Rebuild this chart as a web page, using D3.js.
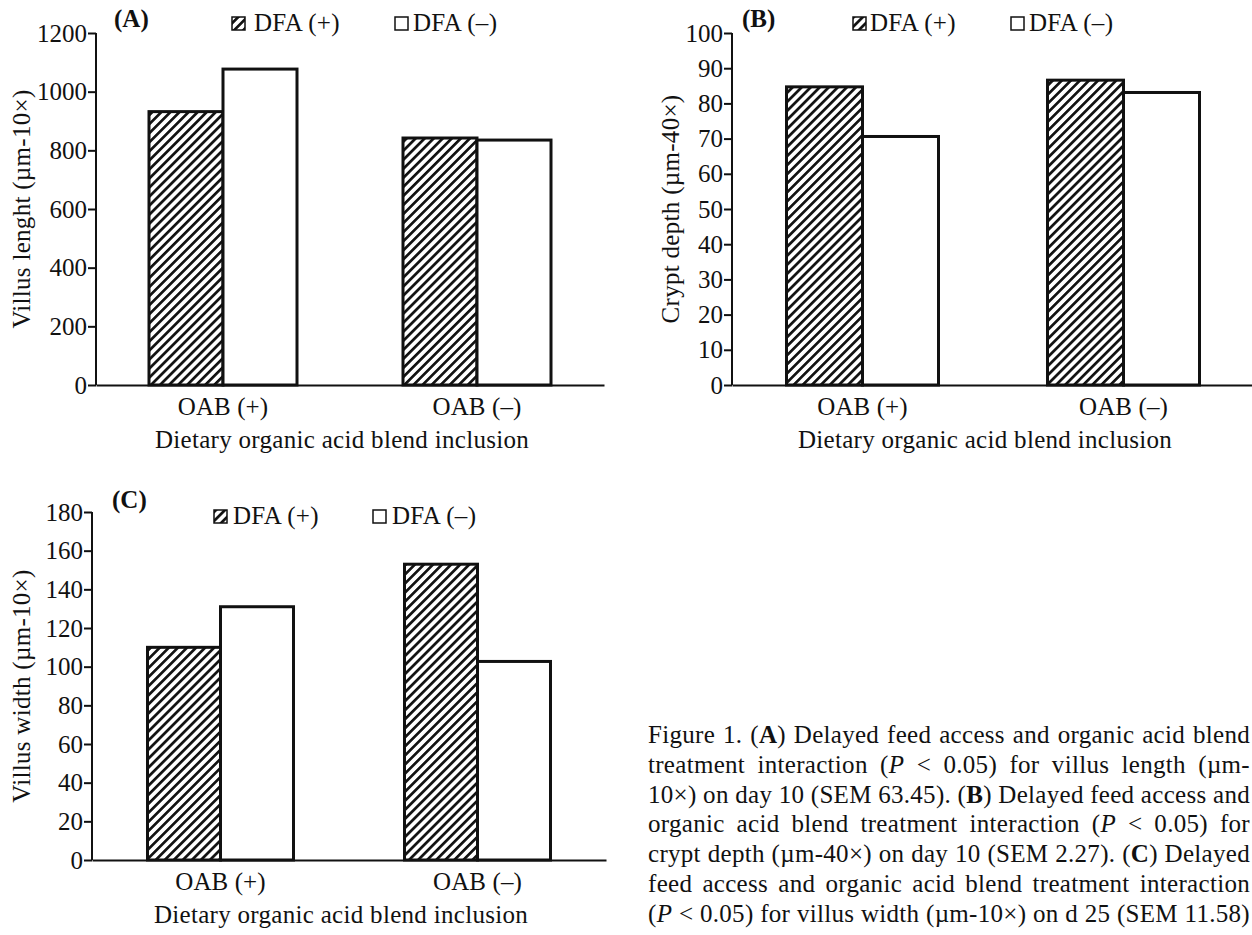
<!DOCTYPE html>
<html><head><meta charset="utf-8">
<script src="https://cdn.jsdelivr.net/npm/d3@7"></script>
<style>
body{margin:0;background:#fff}
svg{display:block}
text{font-family:"Liberation Serif","Times New Roman",serif;fill:#111}
</style>
</head><body><svg id="c" width="1252" height="935"></svg>
<script>
// ---- data ----
const categories = ["OAB (+)", "OAB (–)"];
const series = ["DFA (+)", "DFA (–)"];
const villusLengthDFAplus = [932, 842];
const villusLengthDFAminus = [1077, 835];
const cryptDepthDFAplus = [84.7, 86.6];
const cryptDepthDFAminus = [70.6, 83.1];
const villusWidthDFAplus = [110, 153];
const villusWidthDFAminus = [131, 102.7];
const ticksA = [0, 200, 400, 600, 800, 1000, 1200];
const ticksB = [0, 10, 20, 30, 40, 50, 60, 70, 80, 90, 100];
const ticksC = [0, 20, 40, 60, 80, 100, 120, 140, 160, 180];
const panelLabels = ["(A)", "(B)", "(C)"];
const yTitles = ["Villus lenght (µm-10×)", "Crypt depth (µm-40×)", "Villus width (µm-10×)"];
const xTitle = "Dietary organic acid blend inclusion";
const captionLines = [
  "Figure 1. (**A**) Delayed feed access and organic acid blend",
  "treatment interaction (*P* < 0.05) for villus length (µm-",
  "10×) on day 10 (SEM 63.45). (**B**) Delayed feed access and",
  "organic acid blend treatment interaction (*P* < 0.05) for",
  "crypt depth (µm-40×) on day 10 (SEM 2.27). (**C**) Delayed",
  "feed access and organic acid blend treatment interaction",
  "(*P* < 0.05) for villus width (µm-10×) on d 25 (SEM 11.58)"
];

// ---- layout ----
const panels = [
  {x0:96, x1:604, yTop:33, yBot:385, ticks:ticksA, plus:villusLengthDFAplus, minus:villusLengthDFAminus,
   bw:74, label:panelLabels[0], labelX:114, labelY:27, legendY:31, leg:[[232,254],[395,413]],
   yTitle:yTitles[0], yTitleX:30},
  {x0:732, x1:1254, yTop:33, yBot:385, ticks:ticksB, plus:cryptDepthDFAplus, minus:cryptDepthDFAminus,
   bw:76, label:panelLabels[1], labelX:742, labelY:27, legendY:31, leg:[[853,870],[1011,1029]],
   yTitle:yTitles[1], yTitleX:679},
  {x0:92, x1:606, yTop:512, yBot:860, ticks:ticksC, plus:villusWidthDFAplus, minus:villusWidthDFAminus,
   bw:73, label:panelLabels[2], labelX:112, labelY:508, legendY:524, leg:[[214,233],[373,392]],
   yTitle:yTitles[2], yTitleX:30}
];

const svg = d3.select("#c");
const defs = svg.append("defs");
const pat = defs.append("pattern").attr("id","hatch").attr("patternUnits","userSpaceOnUse")
  .attr("width",6.4).attr("height",6.4).attr("patternTransform","rotate(45)");
pat.append("rect").attr("width",6.4).attr("height",6.4).attr("fill","#fff");
pat.append("rect").attr("x",0).attr("width",2.7).attr("height",6.4).attr("fill","#111");

const FS = 25, LS = 0.3;

panels.forEach(p => {
  const g = svg.append("g");
  const maxV = p.ticks[p.ticks.length-1];
  const y = d3.scaleLinear().domain([0, maxV]).range([p.yBot, p.yTop]);
  const x = d3.scaleBand().domain(categories).range([p.x0, p.x1]);
  const xs = d3.scaleBand().domain(series).range([-p.bw, p.bw]);

  const rows = categories.map((c,i)=>[{c, s:series[0], v:p.plus[i]},{c, s:series[1], v:p.minus[i]}]).flat();
  g.selectAll("rect.bar").data(rows).join("rect").attr("class","bar")
    .attr("x", d => x(d.c) + x.bandwidth()/2 + xs(d.s))
    .attr("width", xs.bandwidth())
    .attr("y", d => y(d.v))
    .attr("height", d => y(0) - y(d.v))
    .attr("fill", d => d.s === series[0] ? "url(#hatch)" : "#fff")
    .attr("stroke", "#111").attr("stroke-width", 3);

  // y axis
  const ya = g.append("g").attr("transform", `translate(${p.x0},0)`)
    .call(d3.axisLeft(y).tickValues(p.ticks).tickSize(8).tickPadding(1).tickFormat(d3.format("d")));
  ya.select(".domain").attr("stroke","#111").attr("stroke-width",2).attr("d", `M0,${p.yTop}V${p.yBot}`);
  ya.selectAll(".tick line").attr("stroke","#111").attr("stroke-width",2);
  ya.selectAll(".tick text").attr("font-size", FS).attr("font-family","Liberation Serif").attr("fill","#111");

  // x axis
  const xa = g.append("g").attr("transform", `translate(0,${p.yBot})`)
    .call(d3.axisBottom(x).tickSize(0).tickPadding(12));
  xa.select(".domain").attr("stroke","#111").attr("stroke-width",2);
  xa.selectAll(".tick text").attr("font-size", FS).attr("font-family","Liberation Serif").attr("fill","#111")
    .attr("letter-spacing", 0.1);

  // titles
  g.append("text").attr("x", (p.x0+p.x1)/2 - 8).attr("y", p.yBot + 63)
    .attr("text-anchor","middle").attr("font-size", FS).attr("letter-spacing", LS).text(xTitle);
  g.append("text").attr("transform", `translate(${p.yTitleX},${(p.yTop+p.yBot)/2}) rotate(-90)`)
    .attr("text-anchor","middle").attr("font-size", FS).attr("letter-spacing", LS).text(p.yTitle);

  // panel label
  g.append("text").attr("x", p.labelX).attr("y", p.labelY).attr("font-size", FS)
    .attr("font-weight","bold").text(p.label);

  // legend
  series.forEach((s,i) => {
    const [bx, tx] = p.leg[i];
    g.append("rect").attr("x", bx).attr("y", p.legendY - 14).attr("width", 13).attr("height", 13)
      .attr("fill", i===0 ? "url(#hatch)" : "#fff").attr("stroke","#111").attr("stroke-width",1.5);
    g.append("text").attr("x", tx).attr("y", p.legendY).attr("font-size", FS).attr("letter-spacing", LS).text(s);
  });
});

// caption, justified
const capX0 = 648, capX1 = 1250, capY0 = 743, capDY = 29.8;
captionLines.forEach((line, i) => {
  const t = svg.append("text").attr("x", capX0).attr("y", capY0 + i*capDY).attr("font-size", FS)
    .attr("letter-spacing", LS);
  const parts = line.split(/(\*\*[^*]+\*\*|\*[^*]+\*)/).filter(s => s.length);
  parts.forEach(s => {
    const ts = t.append("tspan");
    if (s.startsWith("**")) ts.attr("font-weight","bold").text(s.slice(2,-2));
    else if (s.startsWith("*")) ts.attr("font-style","italic").text(s.slice(1,-1));
    else ts.text(s);
  });
  const w = t.node().getComputedTextLength();
  const nSp = (line.match(/ /g) || []).length;
  if (nSp > 0) t.attr("word-spacing", (capX1 - capX0 - w) / nSp);
});
</script>
</body></html>
